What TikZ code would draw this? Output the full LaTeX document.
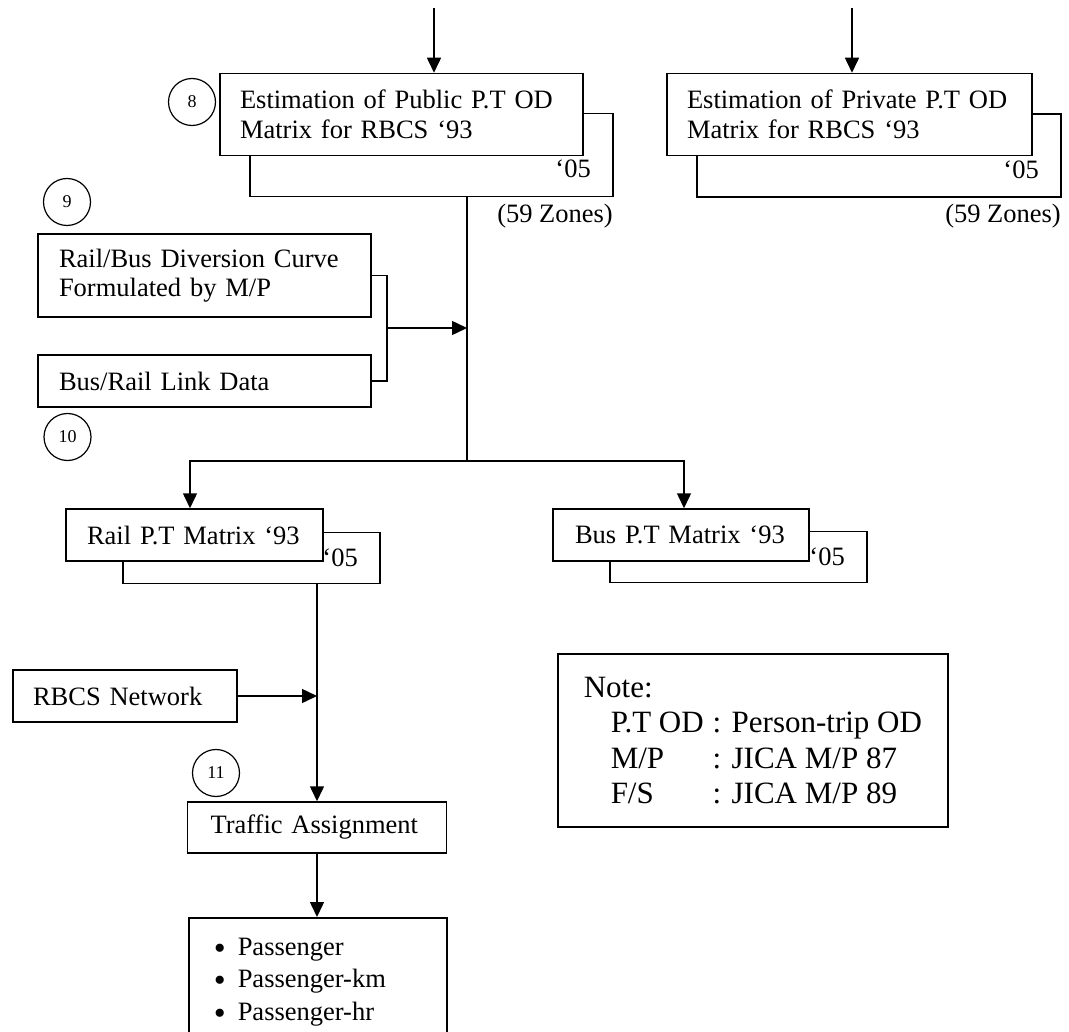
\documentclass[tikz,border=0pt]{standalone}
\usepackage{fontspec}
\setmainfont{Liberation Serif}
\usetikzlibrary{arrows.meta}
\newcommand{\itemdot}{\makebox[24pt][l]{\raisebox{-4pt}{\fontsize{34}{32.5}\selectfont •}}}
\begin{document}
\begin{tikzpicture}[x=1pt,y=-1pt,
  every node/.style={font=\fontsize{26.5}{29.5}\selectfont},
  box/.style={draw, line width=1.5pt, fill=white, inner ysep=0pt, align=left},
  shadowbox/.style={draw, line width=1.5pt, fill=white, inner sep=0pt},
  yearlbl/.style={anchor=base east, inner sep=0pt},
  zonelbl/.style={anchor=base east, inner sep=0pt},
  numcirc/.style={draw, circle, line width=1.2pt, minimum size=47pt, inner sep=0pt,
    font=\fontsize{18}{20}\selectfont},
  conn/.style={line width=1.5pt},
  arr/.style={line width=1.5pt, -{Triangle[length=15pt,width=14pt]}}
]
\useasboundingbox (0,0) rectangle (1069,1032);
\clip (0,0) rectangle (1069,1032);

% --- OD matrix estimation (public and private) ---
\node[shadowbox, minimum width=363pt, minimum height=83pt] (pubs) at (431.5,155) {};
\node[yearlbl] (pub05) at (591,178) {‘05};
\node[box, minimum width=363pt, minimum height=82pt, inner xsep=20pt, text width=323pt]
  (pub) at (401.5,114.5) {Estimation of Public P.T OD\\Matrix for RBCS ‘93};
\node[zonelbl] (pubz) at (613,223) {(59 Zones)};
\node[numcirc] (c8) at (192,102) {8};

\node[shadowbox, minimum width=364pt, minimum height=83pt] (privs) at (879,155.5) {};
\node[yearlbl] (priv05) at (1039,179) {‘05};
\node[box, minimum width=365pt, minimum height=82pt, inner xsep=20pt, text width=325pt]
  (priv) at (849.5,114.5) {Estimation of Private P.T OD\\Matrix for RBCS ‘93};
\node[zonelbl] (privz) at (1061,223) {(59 Zones)};

\coordinate (in1) at (434,8);
\coordinate (in2) at (852,8);
\draw[arr] (in1) -- (in1 |- pub.north);
\draw[arr] (in2) -- (in2 |- priv.north);

% --- modal split inputs ---
\node[numcirc] (c9) at (67,202) {9};
\node[box, minimum width=333pt, minimum height=83pt, inner xsep=21pt, text width=291pt]
  (curve) at (204.5,275.5) {Rail/Bus Diversion Curve\\Formulated by M/P};
\node[box, minimum width=333pt, minimum height=52pt, inner xsep=21pt, text width=291pt]
  (link) at (204.5,381) {Bus/Rail Link Data};
\node[numcirc] (c10) at (67.5,437) {10};

\coordinate (split) at (467,461);
\coordinate (br) at (387,328);
\draw[conn] (split |- pubs.south) -- (split);
\draw[conn] (curve.east) -- (br |- curve.east) -- (br |- link.east) -- (link.east);
\draw[arr] (br) -- (split |- br);

% --- rail / bus matrices ---
\node[shadowbox, minimum width=257pt, minimum height=51pt] (rails) at (251.5,558) {};
\node[yearlbl] (rail05) at (358,566) {‘05};
\node[box, minimum width=257pt, minimum height=52pt, inner xsep=21pt, text width=215pt]
  (rail) at (194.5,535) {Rail P.T Matrix ‘93};

\node[shadowbox, minimum width=257pt, minimum height=51pt] (buss) at (738.5,557) {};
\node[yearlbl] (bus05) at (845,565) {‘05};
\node[box, minimum width=256pt, minimum height=52pt, inner xsep=22pt, text width=212pt]
  (bus) at (681,535) {Bus P.T Matrix ‘93};

\coordinate (sl) at (190,461);
\coordinate (sr) at (684,461);
\draw[arr] (split) -- (sl) -- (sl |- rail.north);
\draw[arr] (split) -- (sr) -- (sr |- bus.north);

% --- assignment ---
\node[box, minimum width=224pt, minimum height=52pt, inner xsep=20pt, text width=184pt]
  (net) at (125,696) {RBCS Network};
\node[numcirc] (c11) at (216,773) {11};
\node[box, minimum width=259pt, minimum height=51pt, inner xsep=23pt, text width=213pt]
  (ta) at (317,827.5) {Traffic Assignment};

\draw[arr] (ta.north |- rails.south) -- (ta.north);
\draw[arr] (net.east) -- (ta.north |- net.east);

\node[box, anchor=north west, inner xsep=25pt, inner ysep=20pt, text width=208pt,
  font=\fontsize{26.5}{32.5}\selectfont]
  (out) at (188,917) {\itemdot Passenger\\\itemdot Passenger-km\\\itemdot Passenger-hr};
\draw[arr] (ta.south) -- (ta.south |- out.north);

% --- abbreviations ---
\node[box, anchor=north west, inner xsep=26pt, inner ysep=23pt,
  font=\fontsize{31}{35.5}\selectfont]
  (note) at (557,653) {Note:\\\hspace*{27pt}\makebox[102pt][l]{P.T OD}: Person-trip OD\\\hspace*{27pt}\makebox[102pt][l]{M/P}: JICA M/P 87\\\hspace*{27pt}\makebox[102pt][l]{F/S}: JICA M/P 89};
\end{tikzpicture}
\end{document}
